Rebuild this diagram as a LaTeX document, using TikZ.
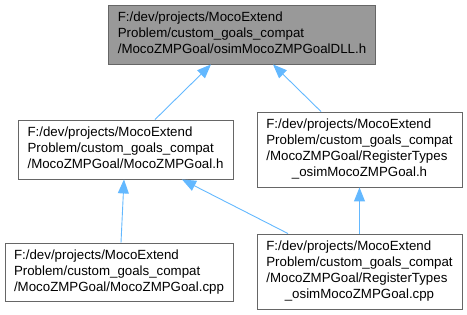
\documentclass[tikz,border=0pt]{standalone}
\usepackage{fontspec}
\setmainfont{Liberation Sans}
\usepackage{tikz}
\usetikzlibrary{shapes,arrows,arrows.meta}
\definecolor{edgeblue}{HTML}{63B8FF}
\definecolor{boxgray}{HTML}{666666}
\definecolor{topgray}{HTML}{999999}
\tikzstyle{line} = [draw=edgeblue, line width=0.9pt, {Triangle[length=14pt,width=11pt]}-]
\tikzstyle{file} = [draw=boxgray, line width=0.9pt, fill=white, rectangle,
  inner sep=0pt, font=\fontsize{13.3}{16}\selectfont]

\begin{document}
\begin{tikzpicture}[x=1pt,y=-1pt]
\useasboundingbox (0,0) rectangle (467,315);
\node[file,fill=topgray,minimum width=267pt,minimum height=59pt](1) at (242,34.5)
  {\begin{tabular}{@{}l@{}}F:/dev/projects/MocoExtend\\Problem/custom\_goals\_compat\\/MocoZMPGoal/osimMocoZMPGoalDLL.h\end{tabular}};
\node[file,minimum width=215pt,minimum height=59pt](2) at (125.5,149.5)
  {\begin{tabular}{@{}l@{}}F:/dev/projects/MocoExtend\\Problem/custom\_goals\_compat\\/MocoZMPGoal/MocoZMPGoal.h\end{tabular}};
\node[file,minimum width=205pt,minimum height=75pt](3) at (359.5,149.5)
  {\begin{tabular}{@{}l@{}}F:/dev/projects/MocoExtend\\Problem/custom\_goals\_compat\\/MocoZMPGoal/RegisterTypes\\\multicolumn{1}{@{}c@{}}{\_osimMocoZMPGoal.h}\end{tabular}};
\node[file,minimum width=228pt,minimum height=58pt](4) at (119,272)
  {\begin{tabular}{@{}l@{}}F:/dev/projects/MocoExtend\\Problem/custom\_goals\_compat\\/MocoZMPGoal/MocoZMPGoal.cpp\end{tabular}};
\node[file,minimum width=205pt,minimum height=75pt](5) at (359.5,271.5)
  {\begin{tabular}{@{}l@{}}F:/dev/projects/MocoExtend\\Problem/custom\_goals\_compat\\/MocoZMPGoal/RegisterTypes\\\multicolumn{1}{@{}c@{}}{\_osimMocoZMPGoal.cpp}\end{tabular}};
% include edges, arrow at the included file
\path [line] ([xshift=-31pt]1.south) -- ([xshift=29.5pt]2.north);
\path [line] ([xshift=31pt]1.south) -- ([xshift=-38.5pt]3.north);
\path [line] ([xshift=-1.5pt]2.south) -- ([xshift=2pt]4.north);
\path [line] ([xshift=56.5pt]2.south) -- ([xshift=-71.5pt]5.north);
\path [line] (3.south) -- (5.north);
\end{tikzpicture}
\end{document}
